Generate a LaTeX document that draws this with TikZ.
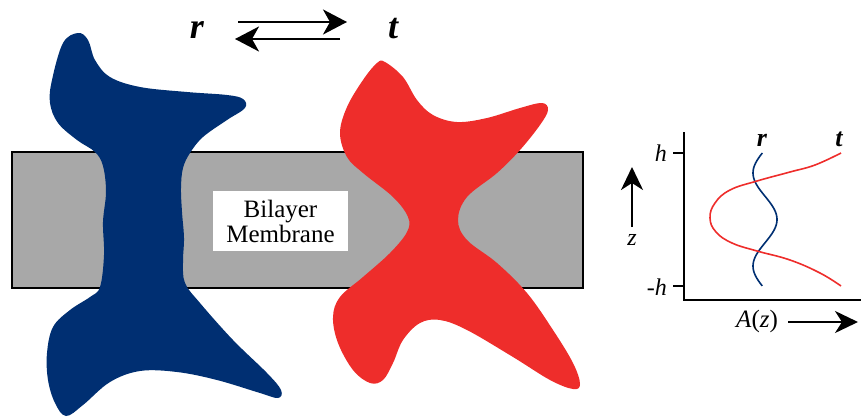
\documentclass[tikz,border=0pt]{standalone}
\usepackage{fontspec}
\setmainfont{Liberation Serif}
\usetikzlibrary{arrows.meta}
\definecolor{protblue}{RGB}{0,47,114}
\definecolor{protred}{RGB}{238,45,43}
\definecolor{bilayer}{RGB}{168,168,168}

\begin{document}
\begin{tikzpicture}[x=1pt,y=-1pt,
  bigarrow/.style={line width=2.2pt,-{Stealth[length=24pt,width=25pt,inset=7pt]}},
  axisarrow/.style={line width=2.2pt,-{Stealth[length=23pt,width=22pt,inset=7pt]}},
  axisline/.style={line width=1.3pt},
  statelabel/.style={font=\fontsize{36}{36}\selectfont\bfseries\itshape, anchor=base, inner sep=0pt},
  curvelabel/.style={font=\fontsize{26}{26}\selectfont\bfseries\itshape, anchor=base, inner sep=0pt},
  axislabel/.style={font=\fontsize{24}{24}\selectfont\itshape, inner sep=0pt},
]
\useasboundingbox (0,0) rectangle (861,418);

% lipid bilayer slab
\draw[line width=1.5pt, fill=bilayer] (12,152) rectangle (583,288);

% protein in state r
\fill[protblue] plot[smooth cycle, tension=0.6] coordinates {
  (78,33) (63,43) (52,80) (50,103) (58,123) (77,140) (95,152) (103,166)
  (106,192) (103,222) (104,255) (100,287) (90,297) (70,310) (53,327)
  (47,353) (48,380) (55,403) (66,416) (83,405) (110,382) (140,371)
  (177,372) (217,380) (260,393) (278,398) (281,390) (267,373) (233,340)
  (200,303) (185,283) (183,262) (184,238) (182,212) (181,188) (183,168)
  (190,153) (203,137) (227,120) (245,108) (243,99) (227,95) (187,92)
  (140,87) (110,77) (95,60) (88,40)};

% protein in state t
\fill[protred] plot[smooth cycle, tension=0.6] coordinates {
  (385,62) (403,77) (417,100) (433,115) (457,122) (487,118) (520,108)
  (542,103) (548,110) (540,125) (520,150) (497,173) (467,197) (458,220)
  (467,240) (497,263) (527,293) (553,330) (573,363) (580,384) (573,389)
  (550,380) (513,357) (467,330) (440,320) (420,323) (403,340) (393,363)
  (383,380) (370,383) (353,370) (338,343) (333,317) (340,297) (363,277)
  (390,253) (407,232) (408,217) (393,197) (363,173) (347,157) (340,133)
  (347,107) (363,80) (377,63)};

% membrane label
\node[fill=white, inner sep=0pt, minimum width=135pt, minimum height=60pt,
  align=center, font=\fontsize{25}{25}\selectfont] (membrane) at (280.5,221)
  {Bilayer\\Membrane};

% the two states and the equilibrium arrows
\node[statelabel] (r) at (197,38) {r};
\node[statelabel] (t) at (393,38) {t};
\coordinate (fwdA) at (238,22);
\coordinate (fwdB) at (347,22);
\coordinate (bwdA) at (340,39);
\coordinate (bwdB) at (235,39);
\draw[bigarrow] (fwdA) -- (fwdB);
\draw[bigarrow] (bwdA) -- (bwdB);

% cross-sectional area profile A(z)
\coordinate (ytop) at (684,132);
\coordinate (origin) at (684,300);
\coordinate (xend) at (861,300);
\draw[axisline] (ytop) -- (origin) -- (xend);
\coordinate (htick) at (673,153);
\coordinate (mhtick) at (673,286);
\draw[axisline] (htick) -- (684,153);
\draw[axisline] (mhtick) -- (684,286);
\node[axislabel, anchor=east] (hlab) at (667,153) {h};
\node[axislabel, anchor=east] (mhlab) at (667,287) {-h};

\coordinate (zA) at (632,227);
\coordinate (zB) at (632,167);
\draw[axisarrow] (zA) -- (zB);
\node[axislabel] (zlab) at (632,240) {z};

\node[axislabel, font=\fontsize{25}{25}\selectfont] (Alab) at (757,321)
  {\textit{A}(\textit{z})};
\coordinate (aA) at (788,322);
\coordinate (aB) at (858,322);
\draw[axisarrow] (aA) -- (aB);

\draw[protblue, line width=1.6pt] plot[domain=0:1, samples=80, variable=\t]
  ({765+12*cos(360*(\t-0.5)/0.7)}, {153+133*\t});
\draw[protred, line width=1.6pt] plot[smooth, tension=0.7] coordinates {
  (841,153) (815,165) (790,172) (757,181) (730,190) (715,203) (710,218)
  (716,232) (732,243) (757,251) (790,260) (820,273) (841,286)};

\node[curvelabel] (rcurve) at (762,146) {r};
\node[curvelabel] (tcurve) at (839,146) {t};
\end{tikzpicture}
\end{document}
